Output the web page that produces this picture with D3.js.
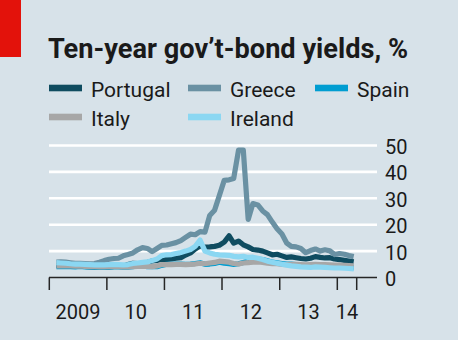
<!DOCTYPE html>
<html>
<head>
<meta charset="utf-8">
<script src="https://cdn.jsdelivr.net/npm/d3@7"></script>
<style>
  body { margin: 0; background: #d7e2e9; }
  svg { display: block; }
</style>
</head>
<body>
<div id="chart"></div>
<script>
// monthly readings, Jan 2009 .. Apr 2014 (mid-month)
const firstMonth = "2009-01-15", lastMonth = "2014-04-15";

const portugal = [4.6, 4.5, 4.5, 4.4, 4.3, 4.3, 4.2, 4.0, 3.9, 3.9, 3.9, 4.0,
  4.2, 4.4, 4.3, 4.9, 5.4, 5.3, 5.4, 5.7, 6.3, 6.5, 6.9, 6.9,
  7.0, 7.3, 7.5, 8.5, 9.3, 10.8, 12.0, 11.5, 11.6, 11.8, 12.2, 13.4,
  15.8, 13.0, 13.8, 12.4, 11.6, 10.6, 10.4, 10.0, 9.3, 8.6, 8.8, 8.2,
  7.6, 7.8, 7.5, 7.2, 7.0, 7.3, 7.9, 7.6, 7.4, 7.5, 7.0, 6.8,
  6.5, 6.2, 5.9, 5.6];
const greece = [5.8, 5.9, 5.8, 5.6, 5.4, 5.4, 5.3, 5.2, 5.3, 5.8, 6.4, 6.9,
  7.2, 7.3, 8.2, 8.7, 9.3, 10.5, 11.3, 11.0, 9.8, 11.0, 12.2, 12.3,
  12.8, 13.2, 14.0, 15.2, 16.4, 16.2, 17.4, 17.2, 23.5, 25.5, 31.0, 36.8,
  37.0, 37.5, 48.3, 48.3, 22.0, 28.0, 27.5, 25.2, 23.8, 21.0, 18.5, 16.5,
  13.0, 11.8, 11.6, 11.0, 9.4, 10.2, 10.8, 10.0, 10.5, 10.1, 8.7, 9.1,
  8.8, 8.3, 7.9, 7.2];
const spain = [4.1, 4.1, 4.2, 4.1, 4.0, 4.2, 4.0, 3.9, 3.9, 3.8, 3.8, 3.9,
  4.0, 4.0, 3.9, 3.9, 4.1, 4.4, 4.4, 4.1, 4.1, 4.1, 4.6, 5.0,
  5.0, 5.1, 5.1, 5.0, 5.1, 5.3, 5.6, 5.0, 5.1, 5.3, 5.8, 5.4,
  5.2, 5.0, 5.2, 5.7, 6.2, 6.6, 7.0, 6.8, 6.3, 5.8, 5.6, 5.3,
  5.1, 5.1, 4.9, 4.6, 4.4, 4.6, 4.6, 4.4, 4.3, 4.2, 4.1, 4.1,
  3.9, 3.8, 3.6, 3.5];
const italy = [4.4, 4.4, 4.5, 4.4, 4.3, 4.4, 4.2, 4.1, 4.1, 4.0, 4.0, 4.1,
  4.1, 4.1, 4.0, 4.0, 4.1, 4.2, 4.3, 4.2, 4.1, 4.4, 4.9, 4.9,
  4.9, 5.0, 5.0, 4.9, 5.0, 5.1, 5.4, 5.2, 5.5, 5.7, 6.2, 6.0,
  5.8, 5.3, 5.1, 5.5, 5.6, 5.8, 5.9, 5.7, 5.4, 5.2, 5.2, 5.0,
  4.9, 5.0, 5.0, 4.9, 4.8, 4.9, 5.0, 4.9, 4.9, 4.8, 4.7, 4.7,
  4.6, 4.5, 4.4, 4.3];
const ireland = [5.6, 5.5, 5.4, 5.2, 5.1, 5.1, 5.0, 4.9, 4.8, 4.8, 4.8, 4.9,
  5.0, 4.9, 4.8, 4.9, 5.3, 5.5, 5.7, 5.9, 6.4, 7.0, 8.3, 8.6,
  8.7, 9.1, 9.5, 10.0, 10.6, 11.8, 14.2, 10.0, 9.3, 8.8, 8.6, 8.5,
  8.4, 8.0, 7.8, 8.0, 7.6, 7.7, 7.3, 6.8, 6.2, 5.8, 5.4, 5.0,
  4.7, 4.4, 4.2, 4.0, 3.9, 3.8, 4.0, 3.9, 3.8, 3.7, 3.6, 3.6,
  3.5, 3.4, 3.3, 3.1];

const seriesNames = ["Portugal", "Greece", "Spain", "Italy", "Ireland"];
const seriesValues = [portugal, greece, spain, italy, ireland];
const seriesColors = ["#0f4c60", "#6a91a3", "#009dd1", "#a7a7a7", "#8bd7f2"];

const yTicks = [0, 10, 20, 30, 40, 50];
const yearLabels = ["2009", "10", "11", "12", "13", "14"];

const width = 458, height = 340;
const parse = d3.timeParse("%Y-%m-%d");
const months = d3.timeMonth.range(parse(firstMonth), d3.timeDay.offset(parse(lastMonth), 1))
  .map(d => d3.timeDay.offset(d3.timeMonth.floor(d), 14));

const x = d3.scaleTime()
  .domain([new Date(2009, 0, 1), new Date(2014, 4, 4)])
  .range([49.3, 356.7]);
const y = d3.scaleLinear().domain([0, 50]).range([277.5, 145.5]);

const font = "Roboto, 'Open Sans', sans-serif";

const $svg = d3.select("#chart").append("svg")
  .attr("width", width)
  .attr("height", height);

$svg.append("rect").attr("width", width).attr("height", height).attr("fill", "#d7e2e9");
$svg.append("rect").attr("x", 0).attr("y", 0).attr("width", 21).attr("height", 57).attr("fill", "#e3120b");

$svg.append("text")
  .attr("x", 48).attr("y", 57.5)
  .attr("font-family", font)
  .attr("font-weight", 700)
  .attr("font-size", 27.5)
  .attr("fill", "#1a1a1a")
  .attr("textLength", 360)
  .attr("lengthAdjust", "spacingAndGlyphs")
  .text("Ten-year gov\u2019t-bond yields, %");

// legend, three per row
const legendCols = [49, 188, 315];
const legendRows = [88, 117];
const legend = $svg.append("g");
seriesNames.forEach((name, i) => {
  const lx = legendCols[i % 3], ly = legendRows[Math.floor(i / 3)];
  legend.append("rect")
    .attr("x", lx).attr("y", ly - 3.3)
    .attr("width", 33).attr("height", 6.6)
    .attr("fill", seriesColors[i]);
  legend.append("text")
    .attr("x", lx + 42).attr("y", ly + 8.5)
    .attr("font-family", font)
    .attr("font-size", 21)
    .attr("fill", "#1a1a1a")
    .text(name);
});

// gridlines + right-hand labels
const grid = $svg.append("g");
yTicks.forEach(t => {
  grid.append("line")
    .attr("x1", 49).attr("x2", 377)
    .attr("y1", y(t)).attr("y2", y(t))
    .attr("stroke", t === 0 ? "#262626" : "#ffffff")
    .attr("stroke-width", t === 0 ? 1.5 : 2.6);
  grid.append("text")
    .attr("x", 385).attr("y", y(t) + 1.5)
    .attr("font-family", font)
    .attr("font-size", 20)
    .attr("fill", "#1a1a1a")
    .style("dominant-baseline", "central")
    .text(t);
});

// lines
const line = d3.line()
  .x((d, i) => x(months[i]))
  .y(d => y(d));

seriesValues.forEach((vals, i) => {
  $svg.append("path")
    .datum(vals)
    .attr("d", line)
    .attr("fill", "none")
    .attr("stroke", seriesColors[i])
    .attr("stroke-width", 5.2)
    .attr("stroke-linejoin", "round");
});

// x axis ticks and year labels
const tickDates = d3.timeYear.range(new Date(2009, 0, 1), new Date(2014, 1, 1)).concat([x.domain()[1]]);
const xAxis = $svg.append("g");
tickDates.forEach(d => {
  xAxis.append("line")
    .attr("x1", x(d)).attr("x2", x(d))
    .attr("y1", y(0)).attr("y2", 290)
    .attr("stroke", "#262626")
    .attr("stroke-width", 1.5);
});
yearLabels.forEach((lab, i) => {
  const cx = (x(tickDates[i]) + x(tickDates[i + 1])) / 2;
  xAxis.append("text")
    .attr("x", cx).attr("y", 318.5)
    .attr("text-anchor", "middle")
    .attr("font-family", font)
    .attr("font-size", 20)
    .attr("fill", "#1a1a1a")
    .text(lab);
});
</script>
</body>
</html>
